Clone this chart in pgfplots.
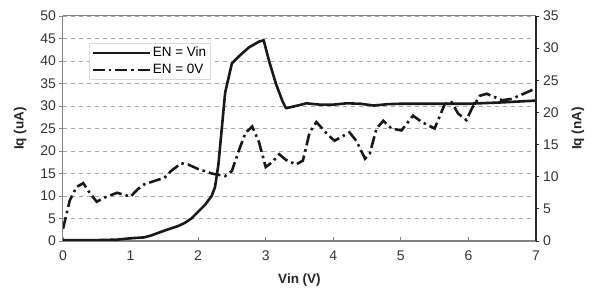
\documentclass[border=0pt]{standalone}
\usepackage{pgfplots}
\pgfplotsset{compat=1.18}
\usepackage{fontspec}
\setmainfont{Liberation Sans}
\definecolor{gridgray}{RGB}{165,165,165}
\definecolor{framegray}{RGB}{130,130,130}
\definecolor{curve}{RGB}{25,25,25}
\pgfplotsset{
  mystyle/.style={
    scale only axis, width=473pt, height=225pt,
    xmin=0, xmax=7,
    major tick length=3.5pt,
    tick label style={font=\fontsize{14}{16}\selectfont, text=black!80},
    label style={font=\fontsize{13.5}{16}\selectfont\bfseries, text=black!85},
    /pgf/number format/assume math mode=true,
  },
  solidcurve/.style={color=curve, line width=2.6pt, line join=round},
  dashcurve/.style={color=curve, line width=2.6pt, dash pattern=on 12pt off 4pt on 2.5pt off 4pt},
}
\begin{document}
\begin{tikzpicture}
\begin{axis}[mystyle, name=main,
  axis x line*=bottom, axis y line*=left,
  x axis line style={framegray, line width=1.5pt},
  y axis line style={framegray, line width=1pt},
  xtick={0,...,7}, ymin=0, ymax=50, ytick={0,5,...,50},
  x tick style={framegray, line width=0.8pt},
  xtick align=inside, ytick align=outside,
  ymajorgrids, grid style={gridgray, dash pattern=on 4pt off 4pt, line width=0.6pt},
  y tick style={framegray, line width=0.8pt},
  xticklabel style={yshift=-6pt},
  xlabel={Vin (V)}, ylabel={Iq (uA)},
  xlabel style={yshift=-6pt}, ylabel style={yshift=7pt},
  legend style={at={(0.055,0.88)}, anchor=north west, draw=gray!30, fill=white,
    font=\fontsize{13.5}{15}\selectfont, inner sep=2pt, row sep=2pt},
  legend cell align=left,
  legend image code/.code={\draw[#1] (0,0) -- (57pt,0);},
]
\addplot[solidcurve] coordinates {
(0,0.2) (0.5,0.2) (0.8,0.3) (1.0,0.6) (1.2,0.8) (1.3,1.2) (1.5,2.3) (1.7,3.3)
(1.8,4.0) (1.9,5.0) (2.0,6.5) (2.1,8) (2.2,10) (2.25,12) (2.3,17) (2.35,25)
(2.4,33) (2.5,39.5) (2.6,41) (2.75,43) (2.9,44.3) (2.97,44.6) (3.05,40)
(3.15,35) (3.25,31) (3.3,29.5) (3.5,30.2) (3.6,30.6) (3.8,30.3) (4.0,30.3)
(4.2,30.6) (4.4,30.5) (4.6,30.1) (4.8,30.4) (5.0,30.5) (5.5,30.5) (6.0,30.5)
(6.5,30.8) (7.0,31.2)
};
\addlegendentry{EN = Vin}
\addlegendimage{dashcurve}
\addlegendentry{EN = 0V}
\end{axis}
\begin{axis}[mystyle,
  axis x line*=top, axis y line*=right,
  x axis line style={framegray, line width=1pt},
  y axis line style={black!85, line width=1.6pt},
  xtick=\empty, ymin=0, ymax=35, ytick={0,5,...,35},
  ytick align=outside,
  y tick style={black!85, line width=0.8pt},
  ylabel={Iq (nA)}, ylabel style={yshift=-6pt},
]
\addplot[dashcurve] coordinates {
(0,1.9) (0.1,6.3) (0.2,8.4) (0.3,9.0) (0.4,7.4) (0.5,6.1) (0.6,6.7) (0.8,7.5)
(1.0,6.9) (1.1,8.0) (1.2,8.8) (1.4,9.5) (1.5,9.8) (1.6,10.9) (1.75,12.1)
(1.85,11.9) (2.0,11.2) (2.2,10.5) (2.4,10.1) (2.5,10.9) (2.6,14) (2.7,16.8)
(2.8,17.8) (2.9,15.4) (3.0,11.5) (3.1,12.3) (3.2,13.5) (3.3,12.6) (3.45,11.9)
(3.55,12.5) (3.65,16.9) (3.75,18.5) (3.93,16.4) (4.02,15.6) (4.24,16.9)
(4.34,15.6) (4.47,12.8) (4.54,13.6) (4.64,17.5) (4.74,18.7) (4.86,17.5)
(5.01,17.2) (5.18,19.5) (5.31,18.5) (5.5,17.5) (5.65,21.3) (5.75,21.6)
(5.85,19.8) (5.97,18.8) (6.05,20.6) (6.17,22.6) (6.27,22.9) (6.5,21.9)
(6.64,22.1) (6.99,23.7)
};
\end{axis}
\path (main.south west) ++(-63pt,-50pt) rectangle ++(595pt,291pt);
\end{tikzpicture}
\end{document}
